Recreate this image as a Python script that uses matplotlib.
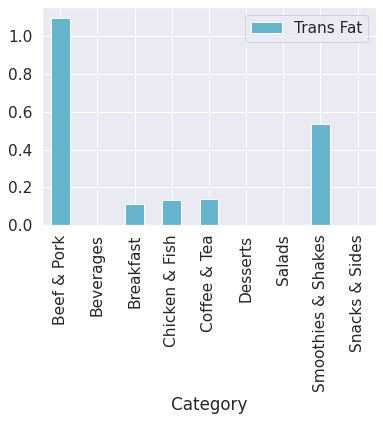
import numpy as np
import pandas as pd
import seaborn as sns
import matplotlib.pyplot as plt

sns.set(style="darkgrid", font_scale=1.4)

# trans fat by menu category
categories = ['Beef & Pork', 'Beverages', 'Breakfast', 'Chicken & Fish',
              'Coffee & Tea', 'Desserts', 'Salads', 'Smoothies & Shakes',
              'Snacks & Sides']
trans_fat = [1.10, 0.0, 0.11, 0.13, 0.14, 0.0, 0.0, 0.535, 0.0]

df = pd.DataFrame({'Trans Fat': trans_fat}, index=pd.Index(categories, name='Category'))

fig, ax = plt.subplots(figsize=(383 / 72, 421 / 72), dpi=72)
df.plot(kind='bar', ax=ax, color='#64B5CD')
ax.legend(loc='upper right')
fig.subplots_adjust(left=0.109, right=0.982, bottom=0.4656, top=0.9827)
fig.savefig('out.png', dpi=72)
